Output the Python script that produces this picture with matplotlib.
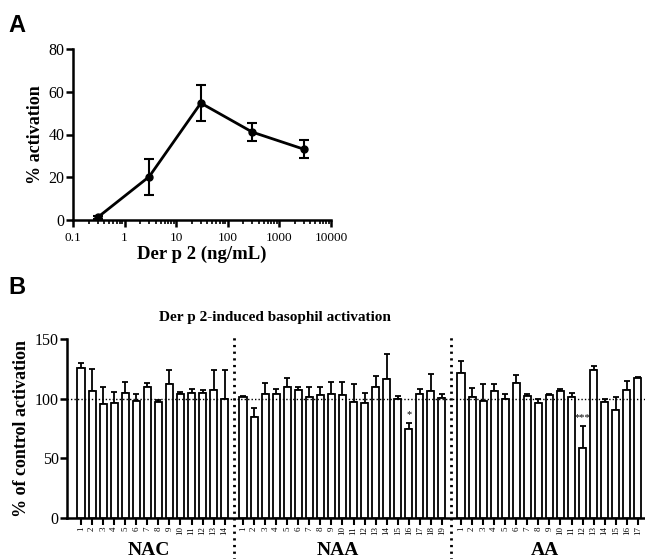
import numpy as np
import matplotlib
matplotlib.use("Agg")
import matplotlib.pyplot as plt
import matplotlib.transforms as mtransforms

SERIF = ["Liberation Serif", "DejaVu Serif"]
plt.rcParams["font.family"] = SERIF
plt.rcParams["axes.linewidth"] = 1.8

# ---------- 数据: A 剂量反应 ----------
conc = [0.3, 3, 30, 300, 3000]
activation = [1.2, 20.3, 54.7, 41.1, 33.1]
activation_err = [0.6, 8.4, 8.6, 4.1, 4.3]

# ---------- 数据: B 各组 ----------
groups = ["NAC", "NAA", "AA"]
nac_vals = [126, 106.4, 95.5, 96.4, 104.5, 98, 110, 97.5, 112, 104, 105, 104.5, 107, 100]
nac_err = [4, 18.6, 14.5, 9.6, 9.5, 6, 3, 1.5, 12, 2, 3, 2.5, 17, 24]
naa_vals = [101, 85, 104, 104, 109.5, 107, 101.7, 103, 104, 103.4, 97.2, 96,
            110, 116.5, 99.4, 75, 104, 106.4, 100.5]
naa_err = [1.5, 7, 9, 4, 8, 2.5, 8.3, 7, 10, 10.6, 15.4, 9, 8.7, 21, 3, 5, 4.4, 14, 3.5]
aa_vals = [121.5, 101.7, 97.8, 106.4, 100, 113.4, 102, 96.6, 103.4, 106.7, 101.7,
           58.4, 124, 97, 90.5, 107.5, 117.3]
aa_err = [9.8, 7.3, 14.8, 5.9, 4, 6.1, 2, 3.1, 0.6, 1.1, 2.8, 19, 3.6, 2.7, 10.9, 7, 0.6]
stars = {("NAA", 15): "*", ("AA", 11): "***"}

W, H = 645, 559
fig = plt.figure(figsize=(W / 100, H / 100), dpi=100)
fig.patch.set_facecolor("white")


def _ax_rect(left, top, right, bottom):
    return [left / W, 1 - bottom / H, (right - left) / W, (bottom - top) / H]


def _style(ax):
    ax.spines["top"].set_visible(False)
    ax.spines["right"].set_visible(False)
    ax.tick_params(which="major", direction="out", length=5, width=1.8, color="black")


# ---------- A ----------
axA = fig.add_axes(_ax_rect(73, 49, 331, 220))
_style(axA)
axA.errorbar(conc, activation, yerr=activation_err, color="black", lw=2,
             marker="o", markersize=5, capsize=3.5, capthick=1.5, elinewidth=1.5)
axA.set_xscale("log")
axA.set_xlim(0.1, 10000)
axA.set_ylim(0, 80)
axA.set_yticks([0, 20, 40, 60, 80])
axA.set_xticks([0.1, 1, 10, 100, 1000, 10000])
axA.set_xticklabels(["0.1", "1", "10", "100", "1000", "10000"])
axA.tick_params(axis="x", which="minor", direction="out", length=3, width=1.2)
axA.tick_params(axis="y", labelsize=11.5, pad=1)
axA.tick_params(axis="x", labelsize=9.5)
axA.set_ylabel("% activation", fontsize=13, fontweight="bold", labelpad=3)
axA.set_xlabel("Der p 2 (ng/mL)", fontsize=13.5, fontweight="bold", labelpad=1)

# ---------- B ----------
axB = fig.add_axes(_ax_rect(67, 339, 645, 518))
_style(axB)
all_vals = [nac_vals, naa_vals, aa_vals]
all_err = [nac_err, naa_err, aa_err]
starts = [0, 14.66, 34.39]
positions, labels = [], []
for gi, (g, vals, errs, s) in enumerate(zip(groups, all_vals, all_err, starts)):
    x = s + np.arange(len(vals))
    axB.bar(x, vals, width=0.64, color="white", edgecolor="black", linewidth=1.3, zorder=3)
    axB.errorbar(x, vals, yerr=[np.zeros(len(errs)), errs], fmt="none", ecolor="black",
                 elinewidth=1.3, capsize=2.2, capthick=1.3, zorder=2)
    for i in range(len(vals)):
        positions.append(x[i])
        labels.append(str(i + 1))
        if (g, i) in stars:
            axB.text(x[i], vals[i] + errs[i] + 3, stars[(g, i)], ha="center",
                     va="bottom", fontsize=7.5)
    axB.text(x.mean() - 0.4, -0.18, g, transform=mtransforms.blended_transform_factory(
        axB.transData, axB.transAxes), ha="center", va="center", fontsize=14,
        fontweight="bold")

axB.set_xlim(-1.27, 51.04)
axB.set_ylim(0, 150)
axB.set_yticks([0, 50, 100, 150])
axB.tick_params(axis="y", labelsize=11.5, pad=1)
axB.set_xticks(positions)
axB.set_xticklabels(labels, rotation=90, fontsize=6.5)
axB.tick_params(axis="x", length=5, width=1.5, pad=1)
axB.axhline(100, color="black", lw=1, ls=(0, (1, 1.5)), zorder=4)
trans = mtransforms.blended_transform_factory(axB.transData, axB.transAxes)
for xd in [(starts[0] + 13 + starts[1]) / 2, (starts[1] + 18 + starts[2]) / 2]:
    axB.plot([xd, xd], [-0.3, 1.01], transform=trans, color="black", lw=2,
             ls=(0, (0.8, 1.6)), clip_on=False, zorder=5)
axB.set_ylabel("% of control activation", fontsize=13, fontweight="bold", labelpad=3)

fig.text(275 / W, 1 - 318 / H, "Der p 2-induced basophil activation", ha="center",
         va="center", fontsize=11, fontweight="bold")
fig.text(8 / W, 1 - 25 / H, "A", ha="left", va="center", fontsize=17,
         fontweight="bold", family=["Liberation Sans", "DejaVu Sans"])
fig.text(8 / W, 1 - 288 / H, "B", ha="left", va="center", fontsize=17,
         fontweight="bold", family=["Liberation Sans", "DejaVu Sans"])

fig.savefig("out.png", dpi=100, facecolor="white")
